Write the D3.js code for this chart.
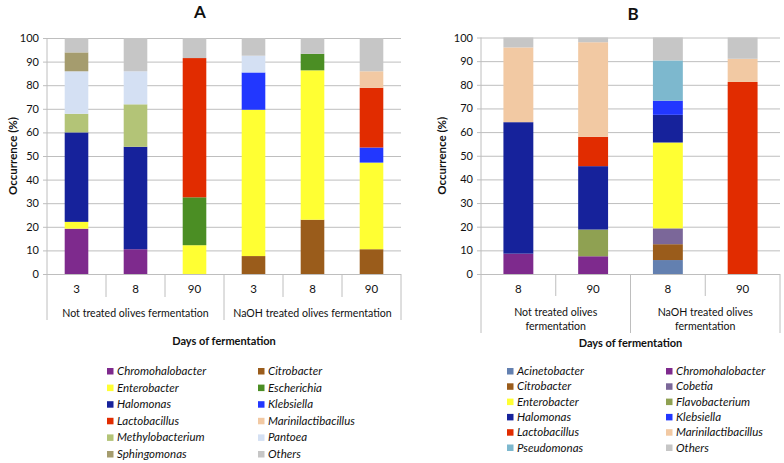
<!DOCTYPE html>
<html><head><meta charset="utf-8">
<script src="https://cdn.jsdelivr.net/npm/d3@7"></script>
<style>
body{margin:0;background:#fff;}
text{font-family:Lato,"Open Sans",sans-serif;fill:#111;}
</style></head>
<body><svg id="c" width="784" height="463"></svg>
<script>
// ---------- Panel A data ----------
const daysA = ["3","8","90","3","8","90"];
const groupsA = ["Not treated olives fermentation","NaOH treated olives fermentation"];
const genusA = ["Chromohalobacter","Citrobacter","Enterobacter","Escherichia","Halomonas","Klebsiella","Lactobacillus","Marinilactibacillus","Methylobacterium","Pantoea","Sphingomonas","Others"];
const chromohalobacterA   = [19.2, 10.5, 0, 0, 0, 0];
const citrobacterA        = [0, 0, 0, 7.6, 23, 10.5];
const enterobacterA       = [2.9, 0, 12.2, 62, 63.3, 36.7];
const escherichiaA        = [0, 0, 20.3, 0, 7, 0];
const halomonasA          = [37.9, 43.4, 0, 0, 0, 0];
const klebsiellaA         = [0, 0, 0, 15.8, 0, 6.4];
const lactobacillusA      = [0, 0, 59, 0, 0, 25.3];
const marinilactibacillusA= [0, 0, 0, 0, 0, 7];
const methylobacteriumA   = [7.9, 18, 0, 0, 0, 0];
const pantoeaA            = [18, 14, 0, 7.1, 0, 0];
const sphingomonasA       = [8, 0, 0, 0, 0, 0];
const othersA             = [6.1, 14.1, 8.5, 7.5, 6.7, 14.1];

// ---------- Panel B data ----------
const daysB = ["8","90","8","90"];
const groupsB = [["Not treated olives","fermentation"],["NaOH treated olives","fermentation"]];
const genusB = ["Acinetobacter","Chromohalobacter","Citrobacter","Cobetia","Enterobacter","Flavobacterium","Halomonas","Klebsiella","Lactobacillus","Marinilactibacillus","Pseudomonas","Others"];
const acinetobacterB      = [0, 0, 5.9, 0];
const chromohalobacterB   = [8.6, 7.5, 0, 0];
const citrobacterB        = [0, 0, 6.7, 0];
const cobetiaB            = [0, 0, 6.7, 0];
const enterobacterB       = [0, 0, 36.3, 0];
const flavobacteriumB     = [0, 11.3, 0, 0];
const halomonasB          = [55.6, 26.8, 11.7, 0];
const klebsiellaB         = [0, 0, 6, 0];
const lactobacillusB      = [0, 12.4, 0, 81.2];
const marinilactibacillusB= [31.6, 40, 0, 9.8];
const pseudomonasB        = [0, 0, 17, 0];
const othersB             = [4.2, 2, 9.7, 9];

const yTicks = [0,10,20,30,40,50,60,70,80,90,100];

const colors = {
  Acinetobacter:"#6380B0", Chromohalobacter:"#7E2A8D", Citrobacter:"#9A5C1B", Cobetia:"#7B6799",
  Enterobacter:"#FFFF33", Escherichia:"#4B8E24", Flavobacterium:"#8FA152", Halomonas:"#16229B",
  Klebsiella:"#2237FF", Lactobacillus:"#E12C00", Marinilactibacillus:"#F2C9A3", Methylobacterium:"#B3C477",
  Pantoea:"#D4E0F3", Pseudomonas:"#7DB8CE", Sphingomonas:"#A59C6E", Others:"#C6C6C6"
};

const seriesA = [chromohalobacterA,citrobacterA,enterobacterA,escherichiaA,halomonasA,klebsiellaA,lactobacillusA,marinilactibacillusA,methylobacteriumA,pantoeaA,sphingomonasA,othersA];
const seriesB = [acinetobacterB,chromohalobacterB,citrobacterB,cobetiaB,enterobacterB,flavobacteriumB,halomonasB,klebsiellaB,lactobacillusB,marinilactibacillusB,pseudomonasB,othersB];

const svg = d3.select("#c");
const gridCol = "#BEBEBE";

function panel(cfg){
  const {title,titleX,titleY,x0,x1,yTop,yBot,days,groups,genus,series,subEnd,grpEnd,ylabX,grpLabelY,xTitleY,legX,legX2,legY,legDy} = cfg;
  const g = svg.append("g");
  const y = d3.scaleLinear().domain([0,100]).range([yBot,yTop]);
  const x = d3.scaleBand().domain(d3.range(days.length)).range([x0,x1]).paddingInner(0.6).paddingOuter(0.3);
  const step = x.step();
  g.append("text").attr("x",titleX).attr("y",titleY).attr("text-anchor","middle")
    .style("font-size","17px").style("font-weight","bold").text(title);
  const ax = d3.axisLeft(y).tickValues(yTicks).tickSize(-(x1-x0)).tickSizeOuter(0).tickPadding(8);
  const ag = g.append("g").attr("transform",`translate(${x0},0)`).call(ax);
  ag.select(".domain").remove();
  ag.selectAll(".tick line").attr("stroke",gridCol).attr("x1",-4);
  ag.selectAll(".tick text").style("font-size","11px").style("font-family","Lato,sans-serif").attr("fill","#111");
  g.append("line").attr("x1",x0).attr("x2",x0).attr("y1",yTop).attr("y2",grpEnd).attr("stroke",gridCol);
  const rows = days.map((d,i)=>{const o={i}; genus.forEach((k,j)=>o[k]=series[j][i]); return o;});
  const stack = d3.stack().keys(genus)(rows);
  g.append("g").selectAll("g").data(stack).join("g").attr("fill",d=>colors[d.key])
    .selectAll("rect").data(d=>d).join("rect")
    .attr("x",d=>x(d.data.i)).attr("width",x.bandwidth())
    .attr("y",d=>y(d[1])).attr("height",d=>Math.max(0,y(d[0])-y(d[1])));
  const nPer = days.length/2;
  for(let i=1;i<=days.length;i++){
    const xx = x0 + step*i;
    const isGroup = (i % nPer === 0);
    g.append("line").attr("x1",xx).attr("x2",xx).attr("y1",yBot).attr("y2",isGroup?grpEnd:subEnd).attr("stroke",gridCol);
  }
  days.forEach((d,i)=>{
    g.append("text").attr("x",x(i)+x.bandwidth()/2).attr("y",yBot+19).attr("text-anchor","middle")
      .style("font-size","11.5px").text(d);
  });
  groups.forEach((gl,j)=>{
    const cx = x0 + step*nPer*(j+0.5);
    const lines = Array.isArray(gl)?gl:[gl];
    lines.forEach((ln,k)=>{
      g.append("text").attr("x",cx).attr("y",grpLabelY+k*14).attr("text-anchor","middle")
        .style("font-size","10.6px").text(ln);
    });
  });
  g.append("text").attr("transform",`translate(${ylabX},${(yTop+yBot)/2}) rotate(-90)`).attr("text-anchor","middle")
    .style("font-size","11.5px").style("font-weight","bold").text("Occurrence (%)");
  g.append("text").attr("x",(x0+x1)/2).attr("y",xTitleY).attr("text-anchor","middle")
    .style("font-size","11px").style("font-weight","bold").text("Days of fermentation");
  genus.forEach((k,j)=>{
    const col = j%2, row = Math.floor(j/2);
    const lx = col===0?legX:legX2, ly = legY + row*legDy;
    g.append("rect").attr("x",lx).attr("y",ly-7).attr("width",6.5).attr("height",6.5).attr("fill",colors[k]);
    g.append("text").attr("x",lx+10).attr("y",ly).style("font-size","11.5px").style("font-style","italic").text(k);
  });
}

panel({title:"A",titleX:200,titleY:18,x0:47,x1:401,yTop:38,yBot:274,days:daysA,groups:groupsA,genus:genusA,series:seriesA,
  subEnd:297,grpEnd:320,ylabX:17,grpLabelY:317,xTitleY:345,legX:107,legX2:258,legY:375,legDy:16.6});
panel({title:"B",titleX:633,titleY:20,x0:481,x1:780,yTop:37.5,yBot:274,days:daysB,groups:groupsB,genus:genusB,series:seriesB,
  subEnd:296,grpEnd:333,ylabX:446,grpLabelY:316,xTitleY:347,legX:507,legX2:666,legY:375,legDy:15.3});
</script></body></html>
